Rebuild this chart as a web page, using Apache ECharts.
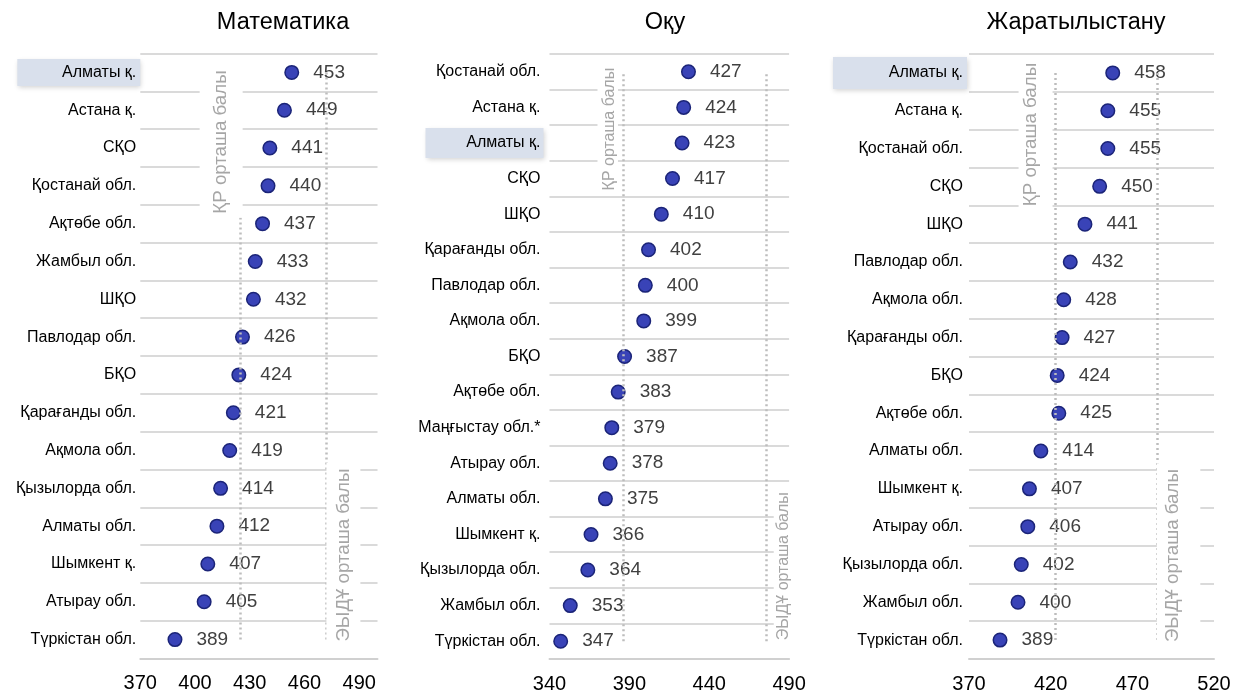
<!DOCTYPE html>
<html><head><meta charset="utf-8">
<script src="https://cdn.jsdelivr.net/npm/echarts@6/dist/echarts.min.js"></script>
<style>html,body{margin:0;padding:0;background:#fff}#c{width:1238px;height:694px}</style>
</head><body><div id="c"></div>
<script>
// ---------- data ----------
const titles = ['Математика', 'Оқу', 'Жаратылыстану'];

const mathCategories = ['Алматы қ.', 'Астана қ.', 'СҚО', 'Қостанай обл.', 'Ақтөбе обл.', 'Жамбыл обл.', 'ШҚО', 'Павлодар обл.', 'БҚО', 'Қарағанды обл.', 'Ақмола обл.', 'Қызылорда обл.', 'Алматы обл.', 'Шымкент қ.', 'Атырау обл.', 'Түркістан обл.'];
const mathValues = [453, 449, 441, 440, 437, 433, 432, 426, 424, 421, 419, 414, 412, 407, 405, 389];

const readCategories = ['Қостанай обл.', 'Астана қ.', 'Алматы қ.', 'СҚО', 'ШҚО', 'Қарағанды обл.', 'Павлодар обл.', 'Ақмола обл.', 'БҚО', 'Ақтөбе обл.', 'Маңғыстау обл.*', 'Атырау обл.', 'Алматы обл.', 'Шымкент қ.', 'Қызылорда обл.', 'Жамбыл обл.', 'Түркістан обл.'];
const readValues = [427, 424, 423, 417, 410, 402, 400, 399, 387, 383, 379, 378, 375, 366, 364, 353, 347];

const sciCategories = ['Алматы қ.', 'Астана қ.', 'Қостанай обл.', 'СҚО', 'ШҚО', 'Павлодар обл.', 'Ақмола обл.', 'Қарағанды обл.', 'БҚО', 'Ақтөбе обл.', 'Алматы обл.', 'Шымкент қ.', 'Атырау обл.', 'Қызылорда обл.', 'Жамбыл обл.', 'Түркістан обл.'];
const sciValues = [458, 455, 455, 450, 441, 432, 428, 427, 424, 425, 414, 407, 406, 402, 400, 389];

const kzAverage = [425, 386, 423];
const oecdAverage = [472, 476, 485];
const kzLabel = 'ҚР орташа балы';
const oecdLabel = 'ЭЫДҰ орташа балы';
const highlighted = 'Алматы қ.';

const mathTicks = [370, 400, 430, 460, 490];
const readTicks = [340, 390, 440, 490];
const sciTicks = [370, 420, 470, 520];
const axisMax = [500, 490, 520];

// ---------- layout / styles ----------
const FONT = '"Liberation Sans", Arial, Helvetica, sans-serif';
const panels = [
  {cats: mathCategories, vals: mathValues, ticks: mathTicks, left: 140.3, width: 237.2, top: 53.5, height: 605, titleX: 278,
   labMargin: 0, labPad: 4, hlW: 123, hlH: 27,
   kzFont: 18.7, kzPad: [12, 2, 12, 4], kzDist: [-4, -2],
   oeFont: 18.7, oePad: [8, 6, 7, 0], oeDist: [-2, 0]},
  {cats: readCategories, vals: readValues, ticks: readTicks, left: 549.5, width: 239.6, top: 54, height: 605, titleX: 660,
   labMargin: 6, labPad: 3, hlW: 118, hlH: 30,
   kzFont: 16, kzPad: [4, 2, 0.5, 4], kzDist: [-6, 5],
   oeFont: 16, oePad: [2, 2, 0, 0], oeDist: [1, 7]},
  {cats: sciCategories, vals: sciValues, ticks: sciTicks, left: 969, width: 245, top: 54, height: 605, titleX: 1071,
   labMargin: 2, labPad: 4, hlW: 134, hlH: 32,
   kzFont: 18.7, kzPad: [3, 2, 12, 4], kzDist: [-12, 3],
   oeFont: 18.7, oePad: [7, 6, 17.5, 0], oeDist: [-2, 0]}
];

const option = {
  animation: false,
  backgroundColor: '#fff',
  textStyle: {fontFamily: FONT},
  title: panels.map((p, i) => ({
    text: titles[i], left: p.titleX, top: 6, textAlign: 'center',
    textStyle: {fontFamily: FONT, fontSize: 23.5, fontWeight: 'normal', color: '#000'}
  })),
  grid: panels.map(p => ({left: p.left, width: p.width, top: p.top, height: p.height, containLabel: false})),
  xAxis: panels.map((p, i) => {
    const mn = p.ticks[0], step = p.ticks[1] - p.ticks[0];
    return {
      type: 'value', gridIndex: i, min: mn, max: axisMax[i], interval: step,
      axisLine: {show: true, lineStyle: {color: '#d0d0d0', width: 2}},
      axisTick: {show: false}, splitLine: {show: false},
      axisLabel: {
        fontFamily: FONT, fontSize: 20, color: '#000', margin: 15,
        formatter: v => (p.ticks.indexOf(v) >= 0 ? String(v) : '')
      }
    };
  }),
  yAxis: panels.map((p, i) => ({
    type: 'category', gridIndex: i, data: p.cats, inverse: true,
    axisLine: {show: false}, axisTick: {show: false},
    splitLine: {show: true, lineStyle: {color: '#dadada', width: 2}},
    axisLabel: {
      margin: p.labMargin, interval: 0,
      formatter: v => (v === highlighted ? '{h|' + v + '}' : '{n|' + v + '}'),
      rich: {
        n: {fontFamily: FONT, fontSize: 16, color: '#000', align: 'right', padding: [0, p.labPad, 0, 0]},
        h: {fontFamily: FONT, fontSize: 16, color: '#000', align: 'right',
            width: p.hlW - p.labPad, height: p.hlH, lineHeight: p.hlH,
            padding: [0, p.labPad, 0, 0],
            backgroundColor: '#d9e0ec',
            shadowColor: 'rgba(0,0,0,0.18)', shadowBlur: 5, shadowOffsetX: 1, shadowOffsetY: 2}
      }
    }
  })),
  series: panels.map((p, i) => {
    const first = p.cats[0], last = p.cats[p.cats.length - 1];
    return {
      type: 'scatter', xAxisIndex: i, yAxisIndex: i,
      data: p.vals.map((v, k) => [v, p.cats[k]]),
      symbol: 'circle', symbolSize: 13.5,
      itemStyle: {color: '#3943b7', borderColor: '#1b2478', borderWidth: 1.5, opacity: 1},
      label: {
        show: true, position: 'right', distance: 14,
        fontFamily: FONT, fontSize: 19, color: '#404040',
        formatter: d => String(d.value[0])
      },
      emphasis: {disabled: true},
      markLine: {
        silent: true, symbol: 'none', animation: false,
        lineStyle: {color: '#bdbdbd', width: 2.5, type: [2, 3], cap: 'butt'},
        data: [
          [
            {coord: [kzAverage[i], last],
             label: {show: true, position: 'insideEndTop', formatter: kzLabel, fontFamily: FONT,
                     fontSize: p.kzFont, color: '#a6a6a6', backgroundColor: '#fff',
                     padding: p.kzPad, distance: p.kzDist}},
            {coord: [kzAverage[i], first]}
          ],
          [
            {coord: [oecdAverage[i], last],
             label: {show: true, position: 'insideStartBottom', formatter: oecdLabel, fontFamily: FONT,
                     fontSize: p.oeFont, color: '#a6a6a6', backgroundColor: '#fff',
                     padding: p.oePad, distance: p.oeDist}},
            {coord: [oecdAverage[i], first]}
          ]
        ]
      }
    };
  })
};

const chart = echarts.init(document.getElementById('c'), null, {renderer: 'canvas'});
chart.setOption(option);
</script>
</body></html>
